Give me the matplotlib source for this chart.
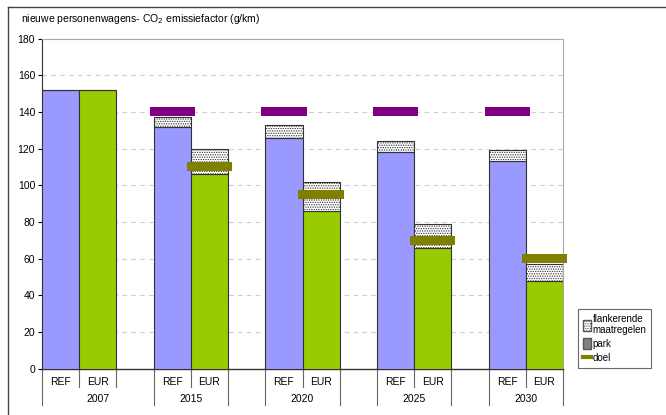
import matplotlib
matplotlib.use("Agg")
import matplotlib.pyplot as plt
import numpy as np
from matplotlib.patches import Patch
from matplotlib.lines import Line2D

plt.rcParams['font.family'] = ['Liberation Sans', 'DejaVu Sans']
plt.rcParams['hatch.linewidth'] = 0.6

years = ['2007', '2015', '2020', '2025', '2030']
scen = ['REF', 'EUR']
park_ref = [152, 132, 126, 118, 113]
park_eur = [152, 106, 86, 66, 48]
flank_ref = [0, 5, 7, 6, 6]
flank_eur = [0, 14, 16, 13, 9]
doel_ref = [np.nan, 140, 140, 140, 140]
doel_eur = [np.nan, 110, 95, 70, 60]
yticks = [0, 20, 40, 60, 80, 100, 120, 140, 160, 180]
title = 'nieuwe personenwagens- CO$_2$ emissiefactor (g/km)'
legend_labels = ['flankerende\nmaatregelen', 'park', 'doel']

c_ref = '#9999FF'
c_eur = '#99CC00'
c_pur = '#800080'
c_olive = '#808000'

fig = plt.figure(figsize=(6.66, 4.15), dpi=100)
ax = fig.add_axes([0.0631, 0.1120, 0.7823, 0.7952])

x_ref = np.array([3 * i for i in range(5)])
x_eur = x_ref + 1
w = 1.0

ax.bar(x_ref, park_ref, w, color=c_ref, edgecolor='#333333', linewidth=0.8, zorder=3)
ax.bar(x_eur, park_eur, w, color=c_eur, edgecolor='#333333', linewidth=0.8, zorder=3)
ax.bar(x_ref, flank_ref, w, bottom=park_ref, color='white', edgecolor='#333333',
       hatch='.......', linewidth=0.8, zorder=3)
ax.bar(x_eur, flank_eur, w, bottom=park_eur, color='white', edgecolor='#333333',
       hatch='.......', linewidth=0.8, zorder=3)

mh = 5.0
mw = 1.22
b1 = ax.bar(x_ref, [mh] * 5, mw, bottom=np.array(doel_ref) - mh / 2, color=c_pur, linewidth=0, zorder=4)
b2 = ax.bar(x_eur, [mh] * 5, mw, bottom=np.array(doel_eur) - mh / 2, color=c_olive, linewidth=0, zorder=4)
for p in list(b1) + list(b2):
    p.set_clip_on(False)

ax.set_xlim(-0.5, 13.5)
ax.set_ylim(0, 180)
ax.set_yticks(yticks)
ax.set_yticklabels([str(t) for t in yticks], fontsize=7.5)
ax.tick_params(axis='y', direction='out', length=3, width=0.8, pad=2)
ax.set_xticks([])
for t in yticks[1:-1]:
    ax.axhline(t, color='#cccccc', linestyle=(0, (4, 4)), linewidth=0.8, zorder=1)

ax.spines['left'].set_color('#333333')
ax.spines['bottom'].set_color('#333333')
ax.spines['bottom'].set_linewidth(1.0)
ax.spines['top'].set_color('#aaaaaa')
ax.spines['right'].set_color('#aaaaaa')

# multi-level category axis
trans = ax.get_xaxis_transform()
short_b = [0.5, 1.5, 3.5, 6.5, 9.5, 12.5]
long_b = [-0.5, 2.5, 4.5, 5.5, 7.5, 8.5, 10.5, 11.5, 13.5]
for b in short_b:
    ax.plot([b, b], [0, -0.055], transform=trans, color='#666666', lw=0.8, clip_on=False)
for b in long_b:
    ax.plot([b, b], [0, -0.111], transform=trans, color='#666666', lw=0.8, clip_on=False)
for i in range(5):
    ax.text(x_ref[i], -0.041, scen[0], transform=trans, ha='center', va='center', fontsize=7.5)
    ax.text(x_eur[i], -0.041, scen[1], transform=trans, ha='center', va='center', fontsize=7.5)
year_pos = [1.0, 3.5, 6.5, 9.5, 12.5]
for yp, yl in zip(year_pos, years):
    ax.text(yp, -0.092, yl, transform=trans, ha='center', va='center', fontsize=7.5)

fig.text(21 / 666, 1 - 19 / 415, title, ha='left', va='center', fontsize=7.5)

# outer chart frame (left and top)
fig.add_artist(Line2D([8 / 666, 8 / 666], [0, 1 - 7 / 415], transform=fig.transFigure,
                      color='#444444', lw=1.0))
fig.add_artist(Line2D([8 / 666, 1], [1 - 7 / 415, 1 - 7 / 415], transform=fig.transFigure,
                      color='#444444', lw=1.0))

handles = [Patch(facecolor='white', edgecolor='#555555', hatch='.......'),
           Patch(facecolor='#808080', edgecolor='#555555'),
           Line2D([0], [0], color=c_olive, lw=3)]
leg = fig.legend(handles, legend_labels, loc='upper left',
                 bbox_to_anchor=(573 / 666, 1 - 304 / 415), fontsize=7,
                 frameon=True, fancybox=False, edgecolor='#444444',
                 handlelength=0.9, handleheight=1.4, handletextpad=0.1,
                 labelspacing=0.3, borderpad=0.5)
leg.get_frame().set_linewidth(0.8)

fig.savefig('out.png', dpi=100)
